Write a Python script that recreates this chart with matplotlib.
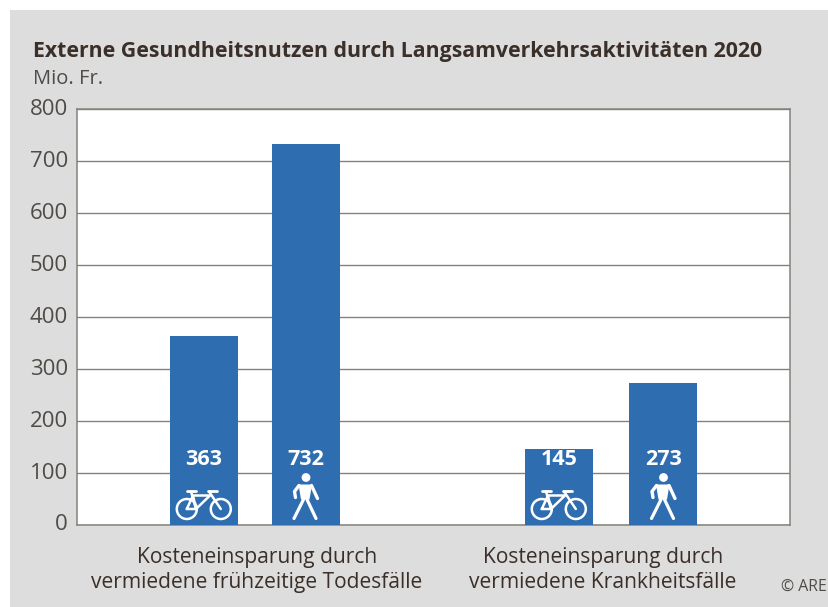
import matplotlib
matplotlib.use("Agg")
import matplotlib.pyplot as plt
from matplotlib.patches import Circle, Polygon, Rectangle
from matplotlib.lines import Line2D
from matplotlib.transforms import Affine2D, ScaledTranslation

title = "Externe Gesundheitsnutzen durch Langsamverkehrsaktivitäten 2020"
unit = "Mio. Fr."
credit = "© ARE"
group_labels = ["Kosteneinsparung durch\nvermiedene frühzeitige Todesfälle",
                "Kosteneinsparung durch\nvermiedene Krankheitsfälle"]
modes = ["bike", "walk", "bike", "walk"]
values = [363, 732, 145, 273]
yticks = [0, 100, 200, 300, 400, 500, 600, 700, 800]

W, H = 829, 607
BLUE = "#2E6DB0"; GRID = "#85827C"; BG = "#DDDDDD"; DARK = "#3A2F29"; MID = "#4F4B47"
plt.rcParams["font.family"] = ["Open Sans", "DejaVu Sans"]

fig = plt.figure(figsize=(W/100, H/100), dpi=100, facecolor="white")
def fx(px): return px / W
def fy(py): return 1 - py / H

fig.add_artist(Rectangle((fx(10), 0), 1 - fx(10), fy(10), transform=fig.transFigure,
                         facecolor=BG, edgecolor="none", zorder=-5))

ax = fig.add_axes([fx(77), fy(524.5), (790.5-77)/W, (524.5-109)/H])
ax.set_facecolor("white")
ax.set_xlim(77, 790.5)
ax.set_ylim(0, 800)
centers = [204, 306, 559, 663.5]
ax.bar(centers, values, width=68, color=BLUE, zorder=3)
ax.set_yticks(yticks)
ax.set_yticklabels([str(t) for t in yticks], fontsize=16, color=MID)
ax.set_xticks([])
ax.tick_params(axis="y", length=0, pad=6.5)
shift = ScaledTranslation(0, 2/100, fig.dpi_scale_trans)
for lab in ax.get_yticklabels():
    lab.set_transform(lab.get_transform() + shift)
ax.grid(axis="y", color=GRID, lw=1.0, zorder=1)
for s in ax.spines.values():
    s.set_color(GRID); s.set_linewidth(1.1)

for c, v in zip(centers, values):
    ax.annotate(str(v), (c, 0), xytext=(0, 47), textcoords="offset points",
                ha="center", va="center", color="white", fontsize=15.5, fontweight="bold", zorder=5)

def icon_transform(c):
    x0, y0 = ax.transData.transform((c, 0))
    return Affine2D().translate(x0, y0)

def seg(tr, pts, lw=1.8):
    xs, ys = zip(*pts)
    fig.add_artist(Line2D(xs, ys, transform=tr, color="white", lw=lw, zorder=6,
                          solid_capstyle="round", solid_joinstyle="round"))

def bike(c):
    tr = icon_transform(c)
    for dx in (-17.2, 16.8):
        fig.add_artist(Circle((dx, 15.5), 10, transform=tr, fill=False, ec="white", lw=1.8, zorder=6))
    seg(tr, [(-17.2, 15.5), (-11, 29), (-8, 15.5), (-17.2, 15.5)])
    seg(tr, [(-11, 29), (6, 29), (-8, 15.5)])
    seg(tr, [(-13, 33), (-8, 15.5)])
    seg(tr, [(5, 33), (16.8, 15.5)])
    seg(tr, [(-17, 34), (-8, 34)], lw=2.0)
    seg(tr, [(4, 34), (13, 34)], lw=2.0)

def walk(c):
    tr = icon_transform(c)
    fig.add_artist(Circle((0, 47), 4.4, transform=tr, fc="white", ec="none", zorder=6))
    fig.add_artist(Polygon([(-7.5, 40), (6, 40), (3.5, 25), (-5, 25)], closed=True, transform=tr,
                           fc="white", ec="none", zorder=6))
    seg(tr, [(-7, 39), (-11.5, 33), (-10.5, 27)], lw=2.4)
    seg(tr, [(5.5, 39), (11.5, 26)], lw=2.4)
    seg(tr, [(-2.5, 25), (-12, 6)], lw=2.3)
    seg(tr, [(1, 25), (10, 6)], lw=2.3)

for c, m in zip(centers, modes):
    (bike if m == "bike" else walk)(c)

fig.text(fx(33), fy(51), title, fontsize=15.35, fontweight="bold", color=DARK, va="center", ha="left")
fig.text(fx(33), fy(79), unit, fontsize=14.5, color=MID, va="center", ha="left")
fig.text(fx(257), fy(570), group_labels[0], fontsize=15.1, color=DARK, ha="center", va="center", linespacing=1.2)
fig.text(fx(603), fy(570), group_labels[1], fontsize=15.1, color=DARK, ha="center", va="center", linespacing=1.2)
fig.text(fx(781), fy(587), credit, fontsize=11.4, color=MID, ha="left", va="center")

fig.savefig("out.png", dpi=100, facecolor="white")
